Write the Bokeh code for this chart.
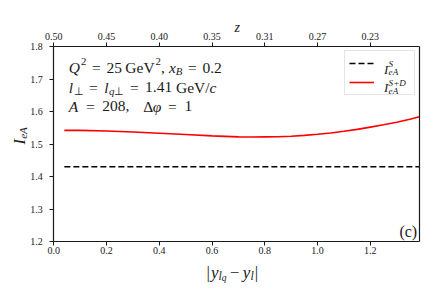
import numpy as np
from bokeh.plotting import figure
from bokeh.models import (Range1d, LinearAxis, FixedTicker, Label, Legend, LegendItem,
                          PrintfTickFormatter)
from bokeh.embed import file_html
from bokeh.resources import INLINE

# ---------------- data ----------------
dy_lq_l = [0.04, 0.1, 0.2, 0.3, 0.4, 0.5, 0.6, 0.65, 0.7, 0.75, 0.8, 0.85, 0.9,
           0.95, 1.0, 1.05, 1.1, 1.15, 1.2, 1.25, 1.3, 1.35, 1.386]
I_eA_SD = [1.542, 1.542, 1.540, 1.537, 1.533, 1.529, 1.525, 1.5235, 1.522, 1.5215,
           1.522, 1.5225, 1.524, 1.5265, 1.530, 1.534, 1.539, 1.545, 1.552, 1.559,
           1.567, 1.576, 1.584]
dy_S = [0.04, 1.386]
I_eA_S = [1.43, 1.43]
bottom_ticks = [0.0, 0.2, 0.4, 0.6, 0.8, 1.0, 1.2]
left_ticks = [1.2, 1.3, 1.4, 1.5, 1.6, 1.7, 1.8]
z_labels = ["0.50", "0.45", "0.40", "0.35", "0.31", "0.27", "0.23"]

X0, X1 = 0.0, 1.3863   # axis box limits
Y0, Y1 = 1.2, 1.8

# ---------------- layout (pixels on the page) ----------------
CW, CH = 428, 283                       # canvas / frame size
BOX_L, BOX_R, BOX_T, BOX_B = 53.3, 419.0, 46.0, 241.0
SERIF = "Liberation Serif"
INK = "#1a1a1a"


def px2x(px):
    return X0 + (px - BOX_L) * (X1 - X0) / (BOX_R - BOX_L)


def py2y(py):
    return Y1 - (py - BOX_T) * (Y1 - Y0) / (BOX_B - BOX_T)


p = figure(frame_width=CW, frame_height=CH,
           x_range=Range1d(px2x(0), px2x(CW)), y_range=Range1d(py2y(CH), py2y(0)),
           output_backend="svg", toolbar_location=None,
           min_border_left=0, min_border_right=0, min_border_top=0, min_border_bottom=0)
p.xgrid.visible = False
p.ygrid.visible = False
p.outline_line_color = None
p.background_fill_color = "white"
p.border_fill_color = "white"


def style_axis(ax, standoff):
    ax.axis_line_color = INK
    ax.axis_line_width = 1.2
    ax.major_tick_line_color = INK
    ax.major_tick_line_width = 1
    ax.major_tick_in = 0
    ax.major_tick_out = 4
    ax.minor_tick_line_color = None
    ax.major_label_text_font = SERIF
    ax.major_label_text_font_size = "10px"
    ax.major_label_text_color = INK
    ax.major_label_standoff = standoff


xa = p.xaxis[0]
xa.ticker = FixedTicker(ticks=bottom_ticks)
xa.formatter = PrintfTickFormatter(format="%.1f")
xa.fixed_location = Y0
xa.bounds = (X0, X1)
style_axis(xa, 1)

ya = p.yaxis[0]
ya.ticker = FixedTicker(ticks=left_ticks)
ya.formatter = PrintfTickFormatter(format="%.1f")
ya.fixed_location = X0
ya.bounds = (Y0, Y1)
style_axis(ya, 7)

top = LinearAxis(ticker=FixedTicker(ticks=bottom_ticks),
                 major_label_overrides={t: s for t, s in zip(bottom_ticks, z_labels)},
                 fixed_location=Y1, bounds=(X0, X1))
style_axis(top, 3)
p.add_layout(top, "above")

right = LinearAxis(ticker=FixedTicker(ticks=[]), fixed_location=X1, bounds=(Y0, Y1))
style_axis(right, 3)
p.add_layout(right, "right")

# ---------------- curves ----------------
r_s = p.line(dy_S, I_eA_S, line_color="black", line_width=1.6, line_dash="6 3")
r_sd = p.line(dy_lq_l, I_eA_SD, line_color="#ff0000", line_width=1.6)

legend = Legend(items=[LegendItem(label=" ", renderers=[r_s]),
                       LegendItem(label=" ", renderers=[r_sd])],
                location=(344, CH - 95), margin=0, padding=4, spacing=3,
                glyph_width=25, glyph_height=16, label_standoff=10,
                label_width=26, label_height=16, label_text_font_size="8px",
                border_line_color="#cccccc", border_line_width=1,
                background_fill_color=None)
p.add_layout(legend)

# ---------------- rich text helpers ----------------
W_R = {" ": 250, "(": 333, ")": 333, "+": 564, ",": 250, ".": 250, "/": 278,
       "=": 564, "A": 722, "B": 667, "D": 722, "G": 722, "S": 556, "V": 722,
       "c": 444, "e": 444, "|": 200, "\u2212": 564, "\u0394": 612, "\u22a5": 838}
W_I = {"A": 611, "B": 611, "D": 722, "I": 333, "Q": 722, "S": 500, "c": 444,
       "e": 444, "l": 278, "q": 500, "x": 444, "y": 444, "z": 389, "\u03c6": 500,
       "+": 675}
for d in "0123456789":
    W_R[d] = 500
LEVEL = {0: (1.0, 0.0), 1: (0.7, 0.38), -1: (0.7, -0.22), -2: (0.55, -0.36)}


def text_w(txt, italic, size):
    tab = W_I if italic else W_R
    return sum(tab.get(ch, W_R.get(ch, 500)) for ch in txt) / 1000.0 * size


def rich(segs, px, py, size, target=None, rotated=False, color=INK):
    # segs: (text, italic, level, gap_em_before, stack_on_previous)
    plan = []
    cur = 0.0
    last_start = 0.0
    gaps_total = 0.0
    for seg in segs:
        txt, it, lev, gap = seg[:4]
        stack = len(seg) > 4 and seg[4]
        sc, sh = LEVEL[lev]
        fs = size * sc
        g = 0.0
        if stack:
            cur = last_start
        else:
            g = gap * size
            cur += g
            gaps_total += g
        start = cur
        last_start = start
        cur += text_w(txt, it, fs)
        plan.append([txt, it, fs, start, sh * size, g])
    # distribute the remaining width over the gaps
    if target and gaps_total > 0:
        f = max((target - cur) / gaps_total, -0.6)
        acc = 0.0
        for item in plan:
            acc += item[5] * f
            item[3] += acc
    for txt, it, fs, start, shift, _ in plan:
        if rotated:
            x_px, y_px = px - shift, py - start
            ang = np.pi / 2
        else:
            x_px, y_px = px + start, py - shift
            ang = 0.0
        p.add_layout(Label(x=px2x(x_px), y=py2y(y_px), text=txt, angle=ang,
                           text_font=SERIF, text_font_size=f"{fs:.1f}px",
                           text_font_style="italic" if it else "normal",
                           text_color=color, text_align="left",
                           text_baseline="alphabetic"))


I, R = True, False
# annotation block
rich([("Q", I, 0, 0), ("2", R, 1, 0.05), ("=", R, 0, 0.28), ("25", R, 0, 0.28),
      ("GeV", R, 0, 0.17), ("2", R, 1, 0.05), (",", R, 0, 0), ("x", I, 0, 0.2),
      ("B", I, -1, 0), ("=", R, 0, 0.28), ("0.2", R, 0, 0.28)],
     68.3, 67.3, 15.5, target=153)
rich([("l", I, 0, 0), ("\u22a5", R, -1, 0.02), ("=", R, 0, 0.28), ("l", I, 0, 0.28),
      ("q", I, -1, 0.02), ("\u22a5", R, -1, 0), ("=", R, 0, 0.28),
      ("1.41", R, 0, 0.28), ("GeV/", R, 0, 0.17), ("c", I, 0, 0)],
     68.3, 86.7, 15.5, target=147.7)
rich([("A", I, 0, 0), ("=", R, 0, 0.28), ("208,", R, 0, 0.28), ("\u0394", R, 0, 0.5),
      ("\u03c6", I, 0, 0), ("=", R, 0, 0.28), ("1", R, 0, 0.28)],
     68.3, 105.7, 15.5, target=123.4)

# legend texts
rich([("I", I, 0, 0), ("eA", I, -1, 0.02), ("S", I, 1, 0, True)], 383.5, 68.5, 13)
rich([("I", I, 0, 0), ("eA", I, -1, 0.02), ("S+D", I, 1, 0, True)], 383.5, 87.2, 13)

# axis titles
rich([("I", I, 0, 0), ("eA", I, -1, 0.02)], 18.5, 144.0, 16, rotated=True)
rich([("|", R, 0, 0), ("y", I, 0, 0.06), ("l", I, -1, 0), ("q", I, -2, 0),
      ("\u2212", R, 0, 0.2), ("y", I, 0, 0.2), ("l", I, -1, 0), ("|", R, 0, 0.06)],
     206, 271.7, 17)
p.add_layout(Label(x=px2x(236.7), y=py2y(26.5), text="z", text_font=SERIF,
                   text_font_size="14px", text_font_style="italic",
                   text_color=INK, text_align="center", text_baseline="alphabetic"))
p.add_layout(Label(x=px2x(416.7), y=py2y(230.5), text="(c)", text_font=SERIF,
                   text_font_size="16px", text_color=INK,
                   text_align="right", text_baseline="alphabetic"))

open("out.html", "w").write(file_html(p, INLINE))
